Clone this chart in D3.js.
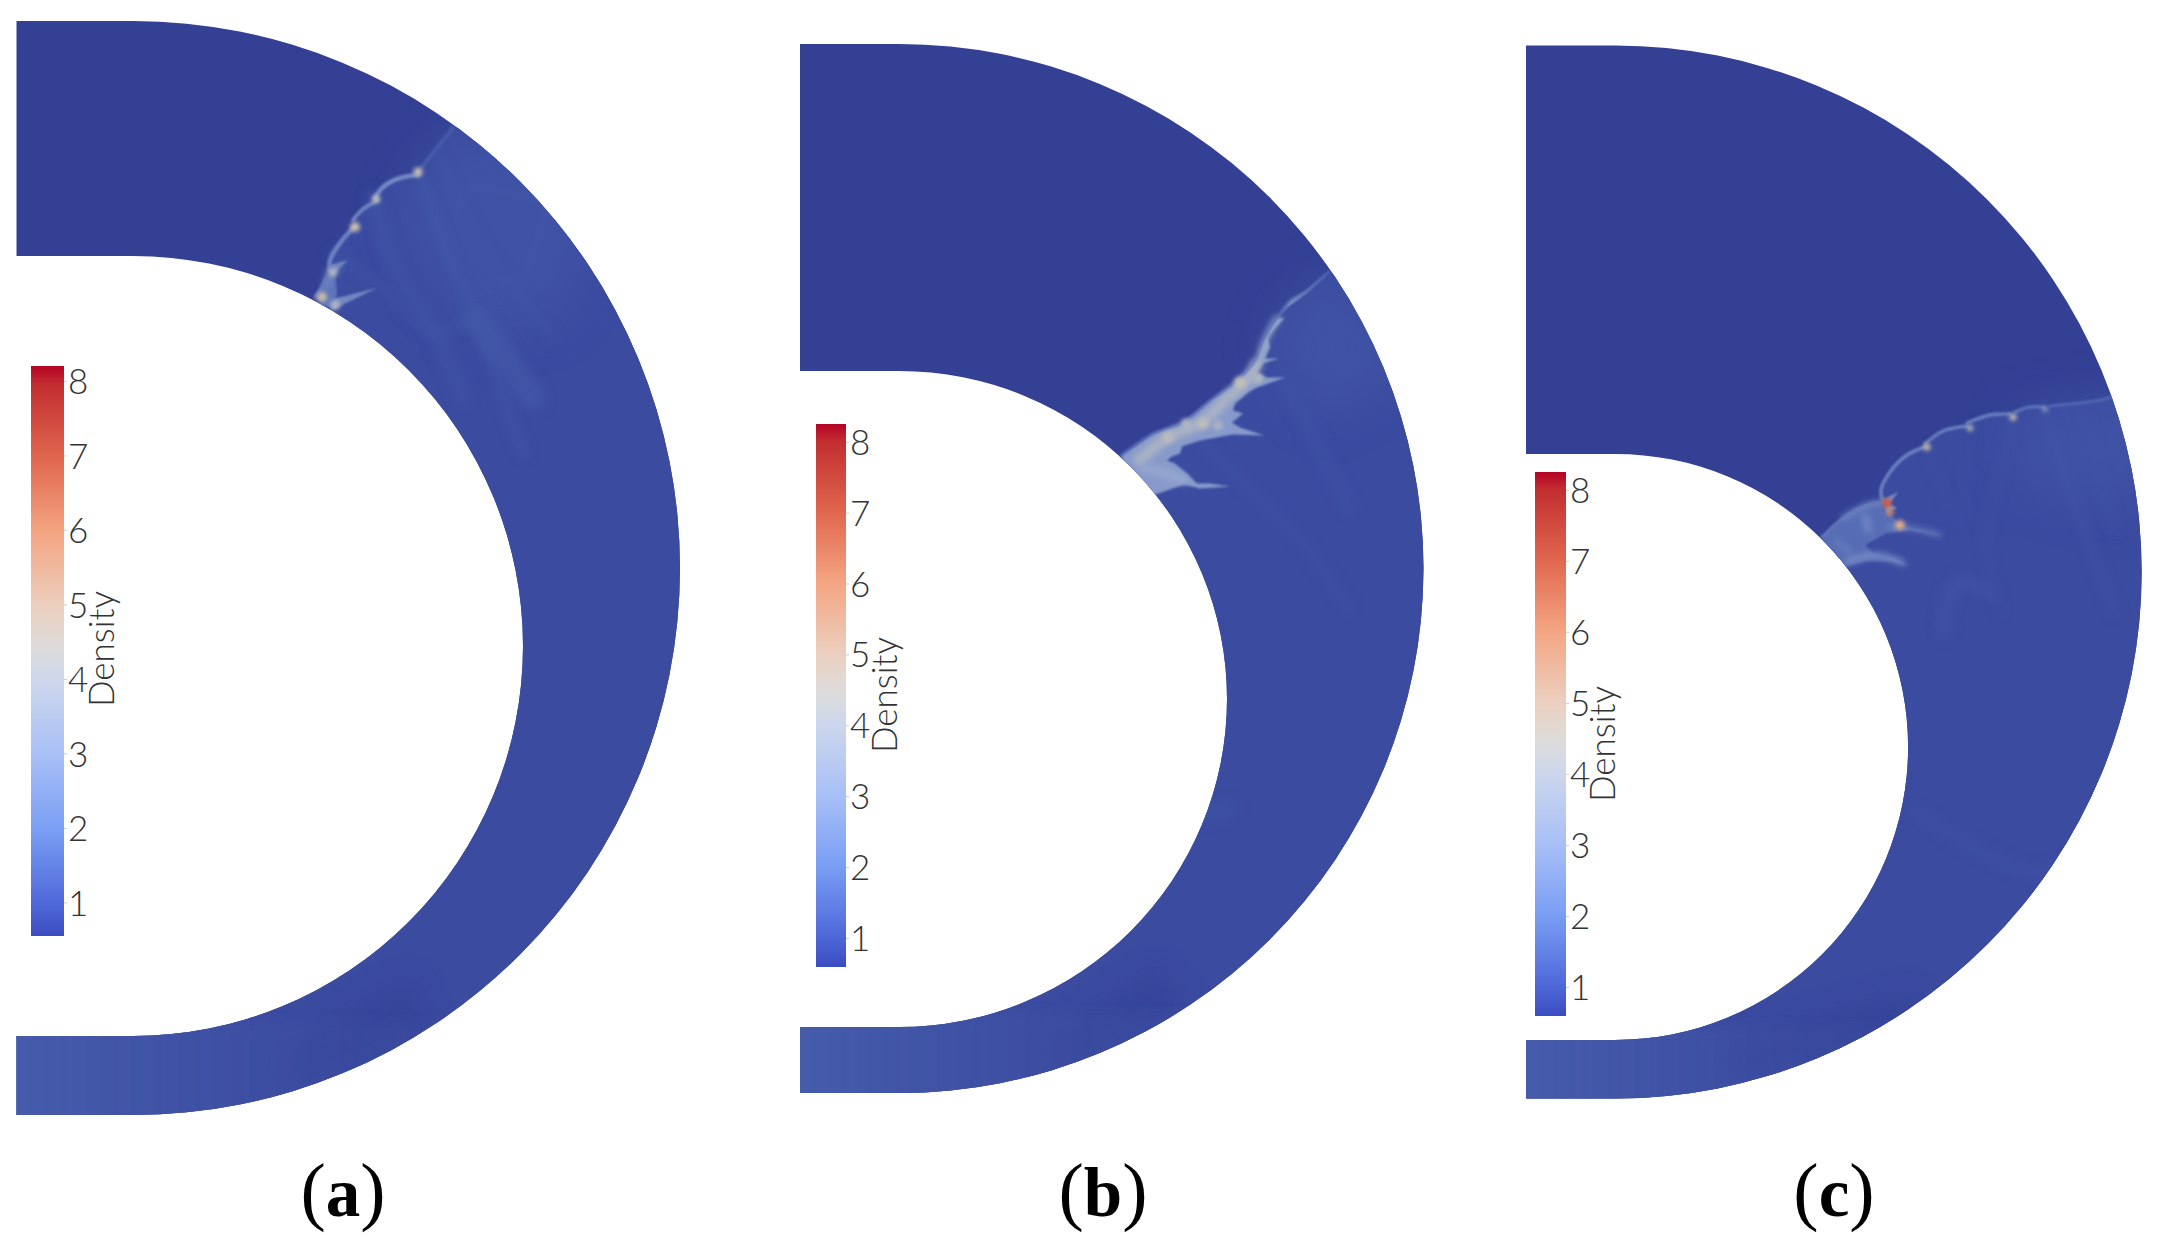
<!DOCTYPE html>
<html><head><meta charset="utf-8">
<script src="https://cdn.jsdelivr.net/npm/d3@7/dist/d3.min.js"></script>
<style>html,body{margin:0;padding:0;background:#fff}svg{display:block}</style>
</head><body><svg id="c" width="2164" height="1255"></svg>
<script>
// ---------- data (domain units, origin at centre of the outer arc, y up) ----------
const panelLabels = ['(a)', '(b)', '(c)'];
const panelLetters = ['a', 'b', 'c'];
const outerRadius = [547, 524.5, 526.5];
const innerRadius = [390, 328, 293];
const innerCentreY = [-78, -130.5, -175];
const channelStart = [-116.5, -99, -89];
const tickValues = [1, 2, 3, 4, 5, 6, 7, 8];
const barDensityRange = [[0.55, 8.2], [0.59, 8.25], [0.59, 8.25]];
const colourDensity = [0.55, 1, 2, 3, 4, 4.45, 5, 6, 7, 8, 8.25];
const fieldDensity = [0.6, 1, 1.5, 2, 3, 4, 5, 6, 7, 8];
const upstreamDensity = 0.6, downstreamDensity = 1;

// shock fronts: one arc between each pair of cusps, wall to outer boundary
const frontA = [
  {density:2.0, w:3, pts:[[182,271],[192,285],[197,298]]},
  {density:2.2, w:4.5, pts:[[197,298],[197,308],[207,325],[220,340]]},
  {density:2.2, w:4, pts:[[220,348],[229,358],[245,368]]},
  {density:2.3, w:4.5, pts:[[242,370],[250,381],[267,390],[285,393]]},
  {density:1.35, w:4, pts:[[285,396],[300,415],[320,440]]}
];
const frontB = [
  {density:1.7, w:2, pts:[[222,113],[254,135],[284,146],[311,168],[338,188],[356,208],[364,228],[374,245],[391,268],[408,278],[430,297]]}
];
const frontC = [
  {density:2.1, w:2.5, pts:[[207,35],[228,54],[252,67],[268,70]]},
  {density:2.2, w:3.5, pts:[[268,70],[266,82],[275,100],[292,117],[310,125]]},
  {density:2.1, w:3.5, pts:[[310,128],[328,141],[352,146]]},
  {density:2.1, w:3.5, pts:[[352,149],[375,157],[395,158]]},
  {density:1.9, w:3, pts:[[400,160],[415,165],[428,165]]},
  {density:1.6, w:3, pts:[[435,166],[480,171],[497,175]]}
];

// lighter jets and wedges behind the fronts
const jetsA = [
  {density:2.2, pts:[[197,303],[215,308],[202,295]]},
  {density:2.3, pts:[[200,269],[244,280],[199,258]]},
  {density:1.9, pts:[[182,271],[192,291],[202,297],[204,275],[200,260],[190,262]]}
];
const jetsB = [
  {density:2.7, pts:[[222,113],[254,135],[284,146],[311,168],[338,188],[356,208],[364,228],[374,245],[391,268],[408,278],[430,297],[408,276],[388,261],[378,250],[386,251],[374,238],[369,231],[371,221],[366,210],[380,210],[364,205],[358,196],[368,191],[386,191],[358,181],[349,176],[336,165],[334,158],[344,155],[333,146],[341,141],[365,133],[334,134],[301,128],[283,122],[281,115],[273,112],[268,108],[276,105],[288,95],[298,85],[311,85],[331,82],[301,80],[285,84],[251,72],[235,85]]}
];
const jetsC = [
  {density:1.75, pts:[[207,35],[228,54],[252,67],[268,70],[275,59],[285,47],[330,36],[295,42],[272,39],[250,27],[258,19],[278,14],[294,6],[278,10],[252,11],[230,5],[215,15]]},
  {density:2.5, pts:[[268,72],[283,80],[274,68],[282,64],[272,60]]}
];

// brighter ridges inside the jets
const ridgesA = [
  {density:2.6, w:4, pts:[[192,283],[197,298]]},
  {density:2.4, w:2, pts:[[202,295],[208,302]]}
];
const ridgesB = [
  {density:3.4, w:11, pts:[[240,108],[269,131],[304,147],[330,172],[348,188],[358,205]]},
  {density:3.0, w:8, pts:[[245,100],[268,95],[285,88]]},
  {density:3.2, w:5, pts:[[361,212],[366,228],[378,250]]}
];
const ridgesC = [
  {density:2.4, w:4, pts:[[228,54],[252,67],[268,70]]},
  {density:2.3, w:7, pts:[[251,55],[253,42]]},
  {density:2.5, w:5, pts:[[232,10],[262,17],[288,9]]},
  {density:2.4, w:3, pts:[[272,45],[295,44],[325,37]]},
  {density:2.1, w:5, pts:[[222,30],[235,20]]}
];

// bright knots [x, y, density, size]
const knotsA = [[285,396,4.1,4.5],[243,369,3.8,4],[222,341,4.1,5],[200,296,3.6,4.5],[189,271,4.2,5],[202,263,3.5,5]];
const knotsB = [[341,186,3.9,6],[359,190,3.6,5],[304,145,3.8,5.5],[287,145,3.5,5],[269,131,3.7,6],[319,143,3.4,5]];
const knotsC = [[272,69,6.9,4.5],[275,60,5.9,3.5],[285,47,5.1,5],[312,125,4.4,3.5],[355,144,4,3],[398,155,4.2,3.5],[430,163,3.4,2.5]];

// faint internal structure
const faintA = [
  {density:1.35, w:9, pts:[[288,389],[320,300],[343,251],[370,170],[391,113]]},
  {density:1.4, w:26, pts:[[343,251],[368,215],[400,170]]},
  {density:1.3, w:9, pts:[[200,315],[250,280],[300,235],[343,251]]},
  {density:1.25, w:16, pts:[[240,370],[262,300],[300,240],[330,170]]},
  {density:1.25, w:8, pts:[[304,415],[345,330],[380,280],[420,230]]}
];
const faintB = [
  {density:1.2, w:10, pts:[[300,128],[340,90],[400,30],[450,-40]]},
  {density:1.2, w:14, pts:[[385,190],[420,120],[450,60]]},
  {density:1.2, w:20, pts:[[170,-300],[240,-260],[330,-240]]}
];
const faintC = [
  {density:1.3, w:5, pts:[[398,155],[385,100],[372,30],[385,-40]]},
  {density:1.25, w:4, pts:[[355,147],[350,90],[345,40]]},
  {density:1.25, w:4, pts:[[312,125],[325,90],[340,50]]},
  {density:1.3, w:8, pts:[[428,164],[445,110],[470,40],[500,-40]]},
  {density:1.25, w:5, pts:[[466,170],[482,110],[500,40]]},
  {density:1.3, w:14, pts:[[330,-60],[340,-10],[375,-20]]},
  {density:1.2, w:12, pts:[[300,-240],[420,-300],[470,-280]]}
];
// broad lighter patch just behind each front's outer end, and a darker band
const patchA = [[320,440],[285,396],[262,340],[340,230],[430,250],[480,400]];
const patchB = [[430,297],[395,268],[372,235],[378,190],[430,150],[520,210]];
const patchC = [[497,175],[430,164],[398,155],[400,90],[520,60],[560,170]];
const darkA = [[150,-480],[280,-410],[300,-470],[150,-530]];
const darkB = [[150,-470],[260,-400],[290,-440],[150,-510]];
const darkC = [[110,-470],[300,-420],[320,-470],[110,-515]];

const fronts = [frontA, frontB, frontC];
const jets = [jetsA, jetsB, jetsC];
const ridges = [ridgesA, ridgesB, ridgesC];
const knots = [knotsA, knotsB, knotsC];
const faint = [faintA, faintB, faintC];
const patches = [patchA, patchB, patchC];
const darks = [darkA, darkB, darkC];

// ---------- layout and style ----------
const centres = [[133, 568], [899, 568.5], [1615, 572]];
const barBoxes = [
  {x:31, w:33, top:366, bottom:936, lx:100, ly:649},
  {x:816, w:30, top:424, bottom:967, lx:883, ly:695},
  {x:1535, w:31, top:472, bottom:1016, lx:1601, ly:744}
];
const labelX = [343, 1103, 1834];
const barColours = ['#3b4cc0','#4f69d9','#7b9ff5','#a9c0f7','#cdd7ec','#dddcdb','#eccfbf','#f4a582','#e0674f','#c22e30','#b40426'];
const fieldColours = ['#334094','#3a4ca0','#4a61ae','#6279bd','#97a8d0','#c6c2b4','#dcb08c','#e5895c','#d4542c','#b40426'];

const fieldColour = d3.scaleLinear().domain(fieldDensity).range(fieldColours).clamp(true);

const svg = d3.select('#c');
svg.append('rect').attr('width',2164).attr('height',1255).attr('fill','#fff');
const defs = svg.append('defs');
[0.7, 1, 1.2, 2, 3, 6, 14, 24].forEach(s => {
  defs.append('filter').attr('id','blur'+String(s).replace('.','_'))
    .attr('filterUnits','userSpaceOnUse').attr('x',0).attr('y',0).attr('width',2164).attr('height',1255)
    .append('feGaussianBlur').attr('stdDeviation',s);
});
const blur = s => 'url(#blur'+String(s).replace('.','_')+')';

panelLabels.forEach((name, i) => {
  const [cx, cy] = centres[i];
  const R = outerRadius[i], r = innerRadius[i], ic = innerCentreY[i], L = channelStart[i];
  const X = d3.scaleLinear().domain([0, 100]).range([cx, cx + 100]);
  const Y = d3.scaleLinear().domain([0, 100]).range([cy, cy - 100]);
  const G = svg.append('g').attr('class','panel-'+panelLetters[i]);

  // annular domain
  const p = d3.path();
  p.moveTo(X(L), Y(R));
  p.lineTo(X(0), Y(R));
  p.arc(X(0), Y(0), X(R) - X(0), -Math.PI/2, Math.PI/2, false);
  p.lineTo(X(L), Y(-R));
  p.lineTo(X(L), Y(ic - r));
  p.lineTo(X(0), Y(ic - r));
  p.arc(X(0), Y(ic), X(r) - X(0), Math.PI/2, -Math.PI/2, true);
  p.lineTo(X(L), Y(ic + r));
  p.closePath();
  defs.append('clipPath').attr('id','dom'+i).append('path').attr('d', p.toString());

  const grad = defs.append('linearGradient').attr('id','chan'+i)
    .attr('gradientUnits','userSpaceOnUse').attr('x1',X(L)).attr('x2',X(420)).attr('y1',0).attr('y2',0);
  grad.append('stop').attr('offset',0).attr('stop-color',fieldColour(1.45)).attr('stop-opacity',.85);
  grad.append('stop').attr('offset',0.45).attr('stop-color',fieldColour(1.2)).attr('stop-opacity',.4);
  grad.append('stop').attr('offset',1).attr('stop-color',fieldColour(1.2)).attr('stop-opacity',0);

  const F = G.append('g').attr('clip-path','url(#dom'+i+')');
  const straight = d3.line().x(d=>X(d[0])).y(d=>Y(d[1]));
  const smooth = d3.line().x(d=>X(d[0])).y(d=>Y(d[1])).curve(d3.curveCatmullRom);

  F.append('rect').attr('x',X(L)-5).attr('y',Y(R)-5).attr('width',X(R)-X(L)+10).attr('height',Y(-R)-Y(R)+10)
    .attr('fill',fieldColour(upstreamDensity));

  // downstream state
  const front = fronts[i].flatMap(s => s.pts);
  const last = front[front.length-1], first = front[0];
  const region = front.concat([[last[0]+300,last[1]+5],[700,-700],[-300,-700],[-300,-250],first]);
  F.append('path').attr('d',straight(region)+'Z').attr('fill',fieldColour(downstreamDensity)).attr('filter',blur(0.7));

  // broad shading
  F.append('path').attr('d',straight(patches[i])+'Z').attr('fill',fieldColour(1.25)).attr('opacity',.7).attr('filter',blur(24));
  F.append('path').attr('d',straight(darks[i])+'Z').attr('fill',fieldColour(0.7)).attr('opacity',.7).attr('filter',blur(14));
  F.append('rect').attr('x',X(L)-80).attr('y',Y(ic-r)-14).attr('width',X(420)-X(L)+80).attr('height',Y(-R)-Y(ic-r)+80)
    .attr('fill','url(#chan'+i+')').attr('filter',blur(6));

  // faint lines
  F.selectAll('path.faint').data(faint[i]).join('path').attr('class','faint')
    .attr('d',d=>smooth(d.pts)).attr('fill','none')
    .attr('stroke',d=>fieldColour(d.density)).attr('stroke-width',d=>d.w).attr('stroke-linecap','round')
    .attr('opacity',.55).attr('filter',blur(6));

  // jets
  F.selectAll('path.jet').data(jets[i]).join('path').attr('class','jet')
    .attr('d',d=>straight(d.pts)+'Z').attr('fill',d=>fieldColour(d.density)).attr('filter',blur(1.2));

  // ridges
  F.selectAll('path.ridge').data(ridges[i]).join('path').attr('class','ridge')
    .attr('d',d=>smooth(d.pts)).attr('fill','none').attr('stroke-linecap','round')
    .attr('stroke',d=>fieldColour(d.density)).attr('stroke-width',d=>d.w).attr('filter',blur(3));

  // front filaments
  F.selectAll('path.front').data(fronts[i]).join('path').attr('class','front')
    .attr('d',d=>smooth(d.pts)).attr('fill','none').attr('stroke-linecap','round')
    .attr('stroke',d=>fieldColour(d.density)).attr('stroke-width',d=>d.w).attr('filter',blur(1));

  // knots
  F.selectAll('circle.knot').data(knots[i]).join('circle').attr('class','knot')
    .attr('cx',d=>X(d[0])).attr('cy',d=>Y(d[1])).attr('r',d=>d[3])
    .attr('fill',d=>fieldColour(d[2])).attr('filter',blur(2));

  // colour bar
  const b = barBoxes[i];
  const bs = d3.scaleLinear().domain(barDensityRange[i]).range([b.bottom, b.top]);
  const gb = defs.append('linearGradient').attr('id','bar'+i).attr('x1',0).attr('x2',0).attr('y1',1).attr('y2',0);
  colourDensity.forEach((d,k) => gb.append('stop')
    .attr('offset',(d-colourDensity[0])/(colourDensity[colourDensity.length-1]-colourDensity[0]))
    .attr('stop-color',barColours[k]));
  const B = G.append('g');
  B.append('rect').attr('x',b.x).attr('y',b.top).attr('width',b.w).attr('height',b.bottom-b.top).attr('fill','url(#bar'+i+')');
  const axis = d3.axisRight(bs).tickValues(tickValues).tickSize(3).tickPadding(1).tickFormat(d3.format('d'));
  const A = B.append('g').attr('transform','translate('+(b.x+b.w)+',0)').call(axis);
  A.select('.domain').remove();
  A.selectAll('line').attr('stroke','#ccc');
  A.selectAll('text').attr('font-family','Lato, sans-serif').attr('font-weight',300).attr('font-size',35)
    .attr('fill','#333').attr('dy','0.36em');
  B.append('text').attr('transform','translate('+b.lx+','+b.ly+') rotate(-90)')
    .attr('text-anchor','middle').attr('dominant-baseline','central')
    .attr('font-family','Lato, sans-serif').attr('font-weight',300).attr('font-size',35).attr('fill','#333').text('Density');

  // caption
  const t = G.append('text').attr('x',labelX[i]).attr('y',1216).attr('text-anchor','middle')
    .attr('font-family','"Liberation Serif", serif').attr('font-size',76).attr('fill','#000');
  t.append('tspan').text('(');
  t.append('tspan').attr('font-weight','bold').attr('font-size',69).text(panelLetters[i]);
  t.append('tspan').text(')');
});
</script></body></html>
